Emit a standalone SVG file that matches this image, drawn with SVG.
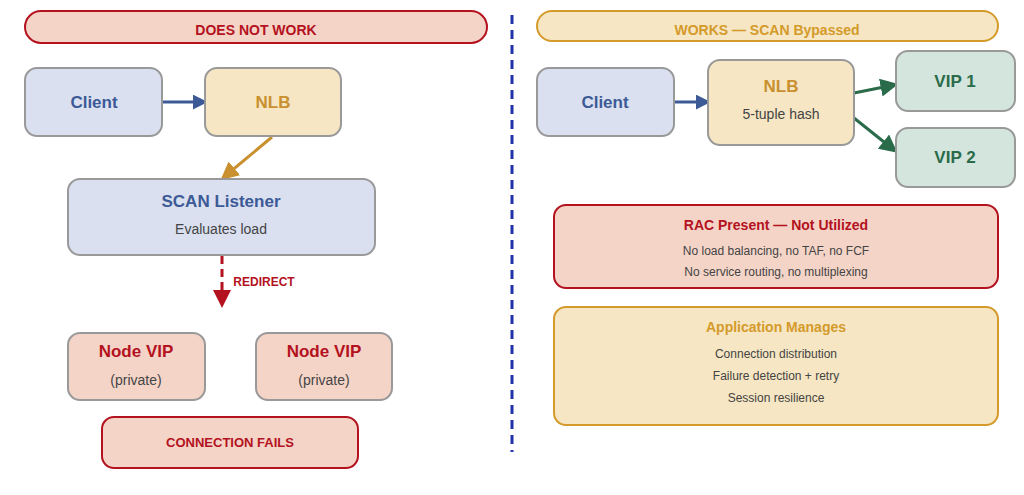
<svg xmlns="http://www.w3.org/2000/svg" width="1024" height="495" viewBox="0 0 1024 495">
<style>
text{font-family:"Liberation Sans",Arial,sans-serif;text-anchor:middle;dominant-baseline:central}
.b{font-weight:bold}
.blue{fill:#dae0f0;stroke:#999;stroke-width:2}
.tan{fill:#f6e6c3;stroke:#999;stroke-width:2}
.grn{fill:#d3e5dc;stroke:#999;stroke-width:2}
.red{fill:#f5d4c8;stroke:#b3121e;stroke-width:2}
.gold{fill:#f6e6c3;stroke:#d49a2a;stroke-width:2}
.s{fill:#444}
</style>
<defs>
<marker id="ab" markerWidth="5" markerHeight="5" refX="6" refY="4" orient="auto" viewBox="0 0 8 8"><path d="M0,0L8,4L0,8z" fill="#3c5a96"/></marker>
<marker id="ao" markerWidth="6" markerHeight="6" refX="6" refY="4" orient="auto" viewBox="0 0 8 8"><path d="M0,0L8,4L0,8z" fill="#c9902f"/></marker>
<marker id="ag" markerWidth="6" markerHeight="6" refX="6" refY="4" orient="auto" viewBox="0 0 8 8"><path d="M0,0L8,4L0,8z" fill="#2a6b4a"/></marker>
<marker id="ar" markerWidth="6" markerHeight="6" refX="5" refY="3" orient="auto" viewBox="0 0 6 6"><path d="M0,0L6,3L0,6z" fill="#b3121e"/></marker>
</defs>
<rect width="1024" height="495" fill="#fff"/>
<g id="connectors">
<line x1="162" y1="102" x2="204" y2="102" stroke="#3c5a96" stroke-width="3" marker-end="url(#ab)"/>
<line x1="272" y1="137" x2="224" y2="177" stroke="#c9902f" stroke-width="3" marker-end="url(#ao)"/>
<line x1="222" y1="256" x2="222" y2="305" stroke="#b3121e" stroke-width="3" stroke-dasharray="8,5" marker-end="url(#ar)"/>
<text x="264" y="282" class="b" font-size="12" fill="#b3121e">REDIRECT</text>
<line x1="674" y1="102" x2="707" y2="102" stroke="#3c5a96" stroke-width="3" marker-end="url(#ab)"/>
<line x1="854" y1="93" x2="894" y2="85" stroke="#2a6b4a" stroke-width="3" marker-end="url(#ag)"/>
<line x1="854" y1="118" x2="894" y2="150" stroke="#2a6b4a" stroke-width="3" marker-end="url(#ag)"/>
<line x1="512" y1="15" x2="512" y2="452" stroke="#2233aa" stroke-width="3" stroke-dasharray="9,6"/>
</g>
<g id="banner-left"><rect x="25" y="11" width="462" height="32" rx="16" class="red"/><text x="256" y="30" class="b" font-size="14" fill="#b3121e">DOES NOT WORK</text></g>
<g id="client-left"><rect x="25" y="68" width="137" height="68" rx="12" class="blue"/><text x="94" y="102" class="b" font-size="17" fill="#3c5a96">Client</text></g>
<g id="nlb-left"><rect x="205" y="68" width="136" height="68" rx="12" class="tan"/><text x="273" y="102" class="b" font-size="17" fill="#c9902f">NLB</text></g>
<g id="scan"><rect x="68" y="179" width="307" height="76" rx="12" class="blue"/><text x="221" y="201" class="b" font-size="17" fill="#3c5a96">SCAN Listener</text><text x="221" y="229" class="s" font-size="14">Evaluates load</text></g>
<g id="nodevip1"><rect x="68" y="333" width="137" height="67" rx="12" fill="#f5d4c8" stroke="#999" stroke-width="2"/><text x="136" y="351" class="b" font-size="17" fill="#b3121e">Node VIP</text><text x="136" y="380" class="s" font-size="14">(private)</text></g>
<g id="nodevip2"><rect x="256" y="333" width="136" height="67" rx="12" fill="#f5d4c8" stroke="#999" stroke-width="2"/><text x="324" y="351" class="b" font-size="17" fill="#b3121e">Node VIP</text><text x="324" y="380" class="s" font-size="14">(private)</text></g>
<g id="fails"><rect x="102" y="417" width="256" height="51" rx="12" class="red"/><text x="230" y="442" class="b" font-size="13" fill="#b3121e">CONNECTION FAILS</text></g>
<g id="banner-right"><rect x="537" y="11" width="461" height="30" rx="15" class="gold"/><text x="767" y="30" class="b" font-size="14" fill="#d49a2a">WORKS — SCAN Bypassed</text></g>
<g id="client-right"><rect x="537" y="68" width="137" height="68" rx="12" class="blue"/><text x="605" y="102" class="b" font-size="17" fill="#3c5a96">Client</text></g>
<g id="nlb-right"><rect x="708" y="60" width="146" height="85" rx="12" class="tan"/><text x="781" y="86" class="b" font-size="17" fill="#c9902f">NLB</text><text x="781" y="114" class="s" font-size="14">5-tuple hash</text></g>
<g id="vip1"><rect x="896" y="51" width="119" height="60" rx="12" class="grn"/><text x="955" y="81" class="b" font-size="17" fill="#2a6b4a">VIP 1</text></g>
<g id="vip2"><rect x="896" y="128" width="119" height="59" rx="12" class="grn"/><text x="955" y="157" class="b" font-size="17" fill="#2a6b4a">VIP 2</text></g>
<g id="rac"><rect x="554" y="205" width="444" height="83" rx="12" class="red"/><text x="776" y="225" class="b" font-size="14" fill="#b3121e">RAC Present — Not Utilized</text><text x="776" y="251" class="s" font-size="12">No load balancing, no TAF, no FCF</text><text x="776" y="272" class="s" font-size="12">No service routing, no multiplexing</text></g>
<g id="app"><rect x="554" y="307" width="444" height="118" rx="12" class="gold"/><text x="776" y="327" class="b" font-size="14" fill="#d49a2a">Application Manages</text><text x="776" y="354" class="s" font-size="12">Connection distribution</text><text x="776" y="376" class="s" font-size="12">Failure detection + retry</text><text x="776" y="398" class="s" font-size="12">Session resilience</text></g>
</svg>
